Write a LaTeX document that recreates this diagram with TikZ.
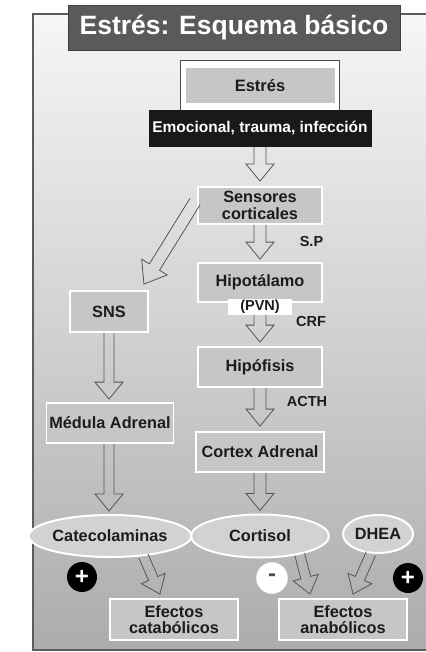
\documentclass[tikz,border=0pt]{standalone}
\usepackage{fontspec}
\setmainfont{Liberation Sans}
\usetikzlibrary{calc,shapes.geometric}
\definecolor{boxgray}{HTML}{C6C6C6}
\definecolor{ovalgray}{HTML}{D2D2D2}
\definecolor{titlegray}{HTML}{5A5A5A}
\definecolor{bgtop}{HTML}{F6F6F6}
\definecolor{bgbot}{HTML}{ACACAC}
\definecolor{framecol}{HTML}{5C5C5C}
\definecolor{inkcol}{HTML}{1C1C1C}
\definecolor{arrowcol}{HTML}{555555}
\tikzset{
  box/.style={draw=white, line width=1.8pt, fill=boxgray, inner sep=0pt, align=center,
    text=inkcol, font=\fontsize{16.3}{16.5}\selectfont\bfseries},
  oval/.style={ellipse, draw=white, line width=2pt, fill=ovalgray, inner sep=0pt,
    text=inkcol, font=\fontsize{16.3}{16}\selectfont\bfseries},
  lbl/.style={text=inkcol, font=\fontsize{14.5}{14}\selectfont\bfseries, inner sep=0pt},
  arrowline/.style={draw=arrowcol, line width=0.8pt, line join=miter},
  sign/.style={circle, minimum size=30pt, inner sep=0pt, font=\fontsize{24}{24}\selectfont\bfseries},
}
% hollow block arrow: #1 start, #2 tip, #3 shaft half width, #4 head half width, #5 head length
\newcommand\holarrow[5]{%
  \draw[arrowline] let \p1=#1, \p2=#2, \n1={atan2(\y2-\y1,\x2-\x1)}, \n2={veclen(\x2-\x1,\y2-\y1)} in
   [shift={(\p1)}, rotate=\n1]
   (0,-#3) -- (\n2-#5,-#3) -- (\n2-#5,-#4) -- (\n2,0) -- (\n2-#5,#4) -- (\n2-#5,#3) -- (0,#3);}
\begin{document}
\begin{tikzpicture}[x=1pt,y=-1pt]
\useasboundingbox (0,0) rectangle (425,652);
\fill[white] (0,0) rectangle (425,652);
% panel
\shade[top color=bgtop, bottom color=bgbot] (33,14) rectangle (440,650);
\draw[framecol, line width=1.5pt] (440,14) -- (33,14) -- (33,650) -- (440,650);
% title
\node[fill=titlegray, draw=black!75, line width=0.6pt, minimum width=332pt, minimum height=45pt,
  inner sep=0pt, text=white, font=\fontsize{26.5}{27}\selectfont\bfseries] (title) at (234,27.5) {Estrés: Esquema básico};
% top boxes
\node[draw=black!70, fill=white, line width=0.6pt, minimum width=159pt, minimum height=50pt, inner sep=0pt] (estout) at (260,85) {};
\node[fill=boxgray, minimum width=149pt, minimum height=35pt, inner sep=0pt, text=inkcol,
  font=\fontsize{16.5}{16}\selectfont\bfseries] (estres) at (260,85.5) {Estrés};
\node[fill=black!90, minimum width=223pt, minimum height=37pt, inner sep=0pt, text=white,
  font=\fontsize{15.5}{16}\selectfont\bfseries] (emo) at (260,128.5) {Emocional, trauma, infección};
% central column
\node[box, minimum width=124pt, minimum height=37pt] (sens) at (260,205.5) {Sensores\\corticales};
\node[box, minimum width=124pt, minimum height=39pt] (hipo) at (260,282.5) {\raisebox{1pt}{Hipotálamo}};
\node[fill=white, minimum width=64pt, minimum height=16pt, inner sep=0pt, text=inkcol,
  font=\fontsize{14.5}{14}\selectfont\bfseries] (pvn) at (260,307) {(PVN)};
\node[box, minimum width=124pt, minimum height=40pt] (hipof) at (260,367) {Hipófisis};
\node[box, minimum width=128pt, minimum height=40pt] (cortex) at (260,452) {Cortex Adrenal};
% left column
\node[box, minimum width=78pt, minimum height=41pt] (sns) at (109,311.5) {SNS};
\node[box, minimum width=127pt, minimum height=40pt] (medula) at (110,423) {Médula Adrenal};
% ellipses
\node[oval, minimum width=142pt, minimum height=42pt] (cat) at (110,536) {Catecolaminas};
\node[oval, minimum width=138pt, minimum height=43pt] (cort) at (260,536) {Cortisol};
\node[oval, minimum width=70pt, minimum height=38pt] (dhea) at (378,534) {DHEA};
% effect boxes
\node[box, minimum width=128pt, minimum height=41pt] (efcat) at (174,619.5) {Efectos\\catabólicos};
\node[box, minimum width=128pt, minimum height=41pt] (efana) at (343,619.5) {Efectos\\anabólicos};
% signs
\node[sign, fill=black, text=white] (plusa) at (82,577) {+};
\node[sign, fill=white, draw=black!25, line width=0.5pt, text=black!70, minimum size=32pt] (minus) at (272,578) {-};
\node[sign, fill=black, text=white] (plusb) at (408,578) {+};
% labels
\node[lbl] (sp) at (311.5,242) {S.P};
\node[lbl] (crf) at (311,322) {CRF};
\node[lbl] (acth) at (307,402) {ACTH};
% arrows
\holarrow{(emo.south)}{($(sens.north)+(0,-5)$)}{6}{14}{17}
\holarrow{(sens.south)}{($(hipo.north)+(0,-3)$)}{6}{14}{17}
\holarrow{(pvn.south)}{($(hipof.north)+(0,-4)$)}{6}{14}{17}
\holarrow{(hipof.south)}{($(cortex.north)+(0,-5)$)}{6}{14}{17}
\holarrow{(cortex.south)}{($(cort.north)+(0,-3)$)}{6}{14}{17}
\holarrow{($(sens.west)+(-2,-4)$)}{($(sns.north east)+(-5,-6)$)}{6}{15}{20}
\holarrow{(sns.south)}{($(sns.south |- medula.north)+(0,-3)$)}{5}{14}{17}
\holarrow{($(medula.south -| sns.south)$)}{($(sns.south |- cat.north)+(0,-3)$)}{5}{14}{17}
\holarrow{(cat.-31)}{($(efcat.north)+(-14,-4)$)}{5}{13}{17}
\holarrow{(cort.-25)}{($(efana.north)+(-33,-4)$)}{5}{13}{17}
\holarrow{(dhea.-110)}{($(efana.north)+(10,-4)$)}{5}{13}{17}
\end{tikzpicture}
\end{document}
